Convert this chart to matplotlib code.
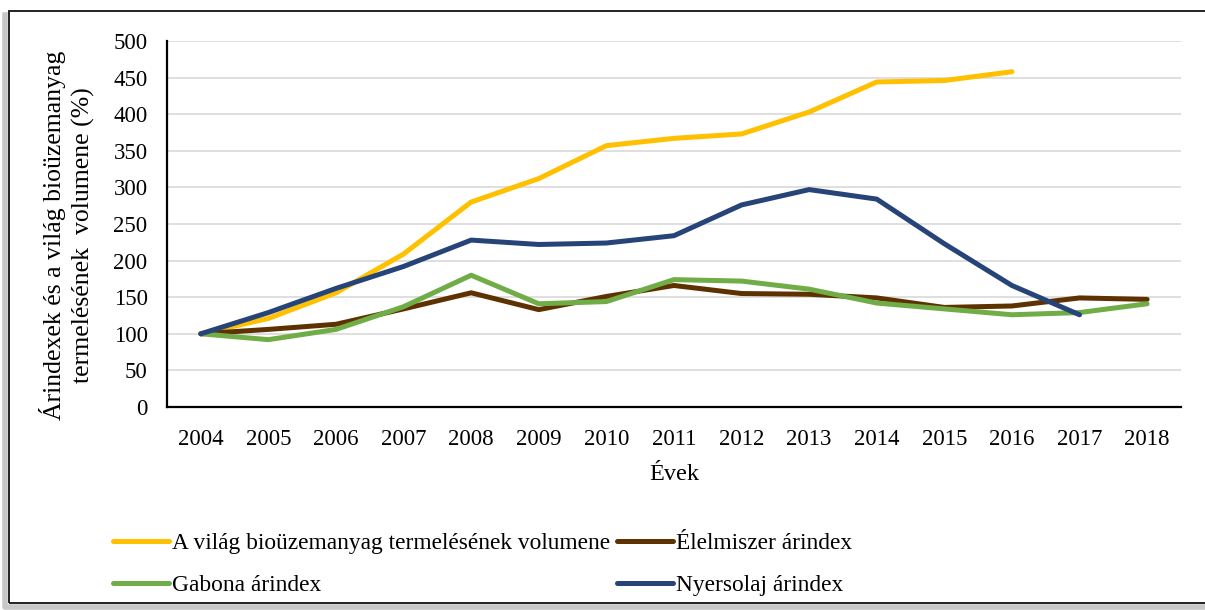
import matplotlib.pyplot as plt
from matplotlib.lines import Line2D
from matplotlib.patches import Rectangle

# years on the category axis
years = ['2004', '2005', '2006', '2007', '2008', '2009', '2010', '2011',
         '2012', '2013', '2014', '2015', '2016', '2017', '2018']

# series values
bio_volume = [100, 121, 156, 209, 280, 312, 357, 367, 373, 403, 444, 446, 458]
food_index = [100, 106, 113, 134, 156, 133, 151, 166, 155, 154, 149, 136, 138, 149, 147]
grain_index = [100, 92, 106, 137, 180, 141, 144, 174, 172, 161, 142, 134, 126, 129, 141]
oil_index = [100, 129, 162, 192, 228, 222, 224, 234, 276, 297, 284, 223, 166, 126]

labels = ['A világ bioüzemanyag termelésének volumene', 'Élelmiszer árindex',
          'Gabona árindex', 'Nyersolaj árindex']
colors = ['#FFC000', '#5E3200', '#70AD47', '#264478']

plt.rcParams['font.family'] = ['Liberation Serif', 'DejaVu Serif']

fig = plt.figure(figsize=(12.05, 6.10), dpi=100)
ax = fig.add_axes([0.1386, 0.3328, 0.8414, 0.6])

x = list(range(len(years)))
series = [bio_volume, food_index, grain_index, oil_index]
handles = []
for vals, col, lab in zip(series, colors, labels):
    h, = ax.plot(x[:len(vals)], vals, color=col, lw=3.6, label=lab,
                 solid_capstyle='round', solid_joinstyle='round')
    handles.append(h)

ax.set_xlim(-0.5, len(years) - 0.5)
ax.set_ylim(0, 500)
ax.set_yticks(range(0, 501, 50))
ax.set_xticks(x)
ax.set_xticklabels(years)
ax.tick_params(length=0, labelsize=16.5, colors='black')
ax.tick_params(axis='x', pad=16)
ax.tick_params(axis='y', pad=14)
ax.grid(axis='y', color='#D9D9D9', lw=1.2)
ax.set_axisbelow(True)
for s in ['top', 'right']:
    ax.spines[s].set_visible(False)
for s in ['left', 'bottom']:
    ax.spines[s].set_linewidth(1.6)
    ax.spines[s].set_color('black')

ax.set_xlabel('Évek', fontsize=17.5, labelpad=10)
ax.set_ylabel('Árindexek és a világ bioüzemanyag\ntermelésének  volumene (%)',
              fontsize=18.5, linespacing=1.35)
ax.yaxis.set_label_coords(-0.071, 0.47)

# legend: handles order matches reference (row-wise)
fig.legend([handles[0], handles[2], handles[1], handles[3]],
           [labels[0], labels[2], labels[1], labels[3]],
           ncol=2, loc='upper left', bbox_to_anchor=(0.086, 0.142),
           frameon=False, fontsize=16.8, handlelength=2.4, handletextpad=0.12,
           columnspacing=0.3, labelspacing=0.9, borderaxespad=0)

# outer frame with soft shadow on left and bottom
fig.lines.append(Line2D([0.004, 0.004, 1.0], [0.975, 0.005, 0.005], transform=fig.transFigure,
                        color='#C8C8C8', lw=4, zorder=0))
fig.patches.append(Rectangle((0.0075, 0.011), 1.2, 0.971, transform=fig.transFigure,
                             fill=False, edgecolor='#222222', lw=1.4, zorder=1))

fig.savefig('out.png', dpi=100)
